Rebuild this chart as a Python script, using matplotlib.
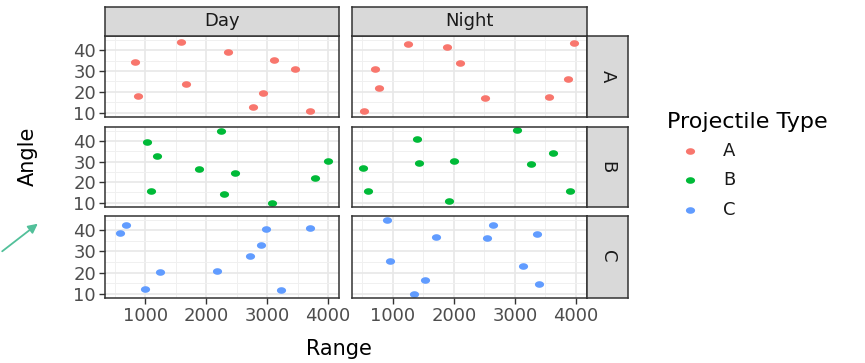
import numpy as np
import matplotlib
matplotlib.use("Agg")
import matplotlib.pyplot as plt
from matplotlib.path import Path
from matplotlib.lines import Line2D
from matplotlib.patches import FancyArrowPatch

# data
types = ["A", "B", "C"]
times = ["Day", "Night"]
colors = ["#F8766D", "#00BA38", "#619CFF"]

day_a_range = [831, 1579, 2361, 3110, 3464, 1661, 885, 2923, 2770, 3710]
day_a_angle = [34.4, 44.0, 39.2, 35.1, 31.0, 23.7, 18.2, 19.5, 12.9, 10.6]
night_a_range = [525, 716, 775, 1257, 1885, 2098, 2513, 3562, 3869, 3962]
night_a_angle = [10.6, 30.8, 21.8, 42.9, 41.6, 34.0, 17.0, 17.6, 26.0, 43.5]

day_b_range = [1033, 1185, 2234, 1880, 2475, 1093, 2290, 3071, 3792, 4000]
day_b_angle = [39.5, 32.8, 44.9, 26.3, 24.4, 15.5, 14.2, 10.0, 22.2, 30.1]
night_b_range = [508, 602, 1405, 1437, 1918, 2005, 3028, 3262, 3628, 3896]
night_b_angle = [27.1, 15.5, 40.8, 29.1, 11.1, 30.4, 45.3, 28.7, 34.3, 15.5]

day_c_range = [579, 677, 1000, 1246, 2175, 2710, 2902, 2984, 3230, 3705]
day_c_angle = [38.7, 42.4, 12.4, 20.2, 20.8, 27.9, 33.3, 40.5, 11.9, 41.0]
night_c_range = [902, 956, 1356, 1530, 1705, 2546, 2634, 3136, 3361, 3389]
night_c_angle = [44.8, 25.7, 10.0, 16.7, 37.0, 36.4, 42.4, 23.1, 38.1, 14.7]

x_ticks = [1000, 2000, 3000, 4000]
y_ticks = [10, 20, 30, 40]

panels = {
    ("A", "Day"): (day_a_range, day_a_angle),
    ("A", "Night"): (night_a_range, night_a_angle),
    ("B", "Day"): (day_b_range, day_b_angle),
    ("B", "Night"): (night_b_range, night_b_angle),
    ("C", "Day"): (day_c_range, day_c_angle),
    ("C", "Night"): (night_c_range, night_c_angle),
}

plt.rcParams["font.family"] = "DejaVu Sans"

W, H = 865, 363
fig = plt.figure(figsize=(W / 100, H / 100), dpi=100)

# slightly wide points, like the stretched original
t = np.linspace(0, 2 * np.pi, 41)
dot = Path(np.column_stack([np.cos(t), 0.72 * np.sin(t)]), closed=True)


def box(x0, y0, x1, y1):
    return [x0 / W, 1 - y1 / H, (x1 - x0) / W, (y1 - y0) / H]


col_px = {"Day": (105, 339), "Night": (352, 587)}
row_px = {"A": (36, 116.5), "B": (127, 206.5), "C": (216, 297.5)}
border = "#333333"

for i, ty in enumerate(types):
    for j, tm in enumerate(times):
        x0, x1 = col_px[tm]
        y0, y1 = row_px[ty]
        ax = fig.add_axes(box(x0, y0, x1, y1))
        xs, ys = panels[(ty, tm)]
        ax.plot(xs, ys, linestyle="none", marker=dot, markersize=6.6,
                color=colors[i], markeredgewidth=0)
        ax.set_xlim(335, 4180)
        ax.set_ylim(8.2, 46.8)
        ax.set_xticks(x_ticks)
        ax.set_yticks(y_ticks)
        ax.set_xticks([500, 1500, 2500, 3500], minor=True)
        ax.set_yticks([15, 25, 35, 45], minor=True)
        ax.grid(True, which="major", color="#E8E8E8", lw=1.2)
        ax.grid(True, which="minor", color="#F0F0F0", lw=0.7)
        ax.set_axisbelow(True)
        for s in ax.spines.values():
            s.set_color(border)
            s.set_linewidth(1.1)
        ax.tick_params(which="minor", length=0)
        ax.tick_params(which="major", length=4, width=1.0, color=border,
                       labelsize=13, labelcolor="#4D4D4D", pad=2.5)
        if j > 0:
            ax.tick_params(axis="y", left=False, labelleft=False)
        if i < 2:
            ax.tick_params(axis="x", bottom=False, labelbottom=False)

# strips
for tm in times:
    x0, x1 = col_px[tm]
    sax = fig.add_axes(box(x0, 7, x1, 36))
    sax.set_facecolor("#D9D9D9")
    sax.set_xticks([])
    sax.set_yticks([])
    for s in sax.spines.values():
        s.set_color(border)
        s.set_linewidth(1.1)
    sax.text(0.5, 0.5, tm, ha="center", va="center", fontsize=13,
             color="#1A1A1A", transform=sax.transAxes)

for ty in types:
    y0, y1 = row_px[ty]
    sax = fig.add_axes(box(587, y0, 628, y1))
    sax.set_facecolor("#D9D9D9")
    sax.set_xticks([])
    sax.set_yticks([])
    for s in sax.spines.values():
        s.set_color(border)
        s.set_linewidth(1.1)
    sax.text(0.5, 0.5, ty, ha="center", va="center", fontsize=13,
             rotation=-90, color="#1A1A1A", transform=sax.transAxes)

# axis titles
fig.text(339 / W, 1 - 349 / H, "Range", ha="center", va="center", fontsize=15)
fig.text(28 / W, 1 - 156 / H, "Angle", ha="center", va="center",
         fontsize=15, rotation=90)

# legend
fig.text(667 / W, 1 - 122 / H, "Projectile Type", ha="left", va="center",
         fontsize=16)
for ty, c, yy in zip(types, colors, [151, 180, 210]):
    fig.add_artist(Line2D([690 / W], [1 - yy / H], marker=dot, markersize=6.6,
                          color=c, markeredgewidth=0, linestyle="none",
                          transform=fig.transFigure))
    fig.text(723 / W, 1 - yy / H, ty, ha="left", va="center", fontsize=13,
             color="#1A1A1A")

# teal arrow at the lower left
arrow = FancyArrowPatch((0 / W, 1 - 253 / H), (40 / W, 1 - 222 / H),
                        transform=fig.transFigure, arrowstyle="-|>",
                        mutation_scale=14, color="#52C09A", lw=1.3)
fig.add_artist(arrow)

fig.savefig("out.png", dpi=100)
